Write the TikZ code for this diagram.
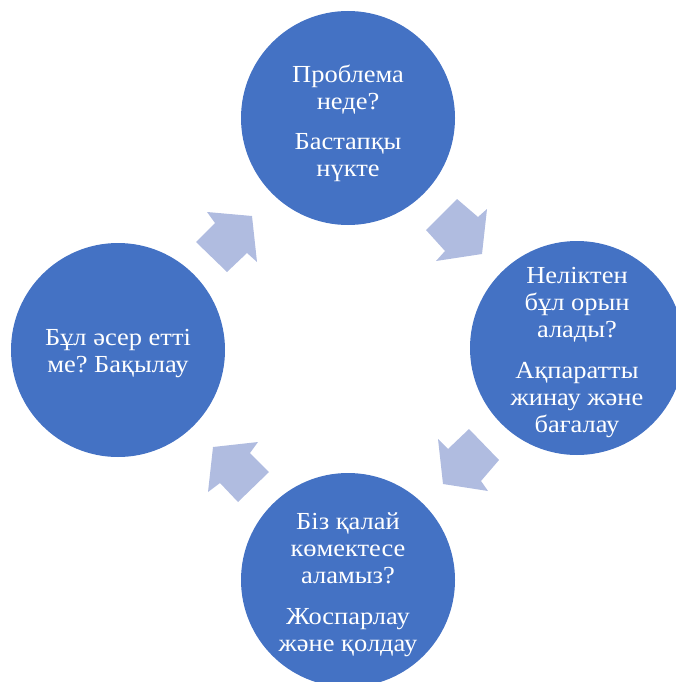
\documentclass[tikz,border=0pt]{standalone}
\usepackage{fontspec}
\setmainfont[FakeStretch=1.08]{Liberation Serif}
\frenchspacing
\definecolor{circblue}{HTML}{4472C4}
\definecolor{arrblue}{HTML}{B0BCE0}
\begin{document}
\begin{tikzpicture}[x=1pt,y=-1pt,
  stage/.style={circle,fill=circblue,draw=none,minimum size=214pt,inner sep=0pt},
  stagetext/.style={text=white,align=center,font=\fontsize{24.5pt}{27pt}\selectfont,inner sep=0pt},
  cyclearrow/.style={fill=arrblue,draw=none}]
\useasboundingbox (0,0) rectangle (675,682);
\node[stage] (c1) at (348,118) {};
\node[stage] (c2) at (577,348) {};
\node[stage] (c3) at (348,580) {};
\node[stage] (c4) at (118,350) {};
\node[stagetext] (t1) at (348,123) {Проблема\\неде?\\[13pt]Бастапқы\\нүкте};
\node[stagetext] (t2) at (577,353) {Неліктен\\бұл орын\\алады?\\[14pt]Ақпаратты\\жинау және\\бағалау};
\node[stagetext] (t3) at (348,585) {Біз қалай\\көмектесе\\аламыз?\\[14pt]Жоспарлау\\және қолдау};
\node[stagetext] (t4) at (118,354) {Бұл әсер етті\\ме? Бақылау};
\fill[cyclearrow] (426,230) -- (457,199) -- (478,217) -- (487,209) -- (482,254) -- (436,261) -- (445,251) -- cycle;
\fill[cyclearrow] (469,429) -- (499,460) -- (481,481) -- (488,491) -- (443,484) -- (438,439) -- (448,449) -- cycle;
\fill[cyclearrow] (213,447) -- (258,442) -- (250,453) -- (269,472) -- (238,502) -- (220,483) -- (208,492) -- cycle;
\fill[cyclearrow] (196,242) -- (215,223) -- (207,212) -- (252,216) -- (257,262) -- (247,253) -- (227,272) -- cycle;
\end{tikzpicture}
\end{document}
